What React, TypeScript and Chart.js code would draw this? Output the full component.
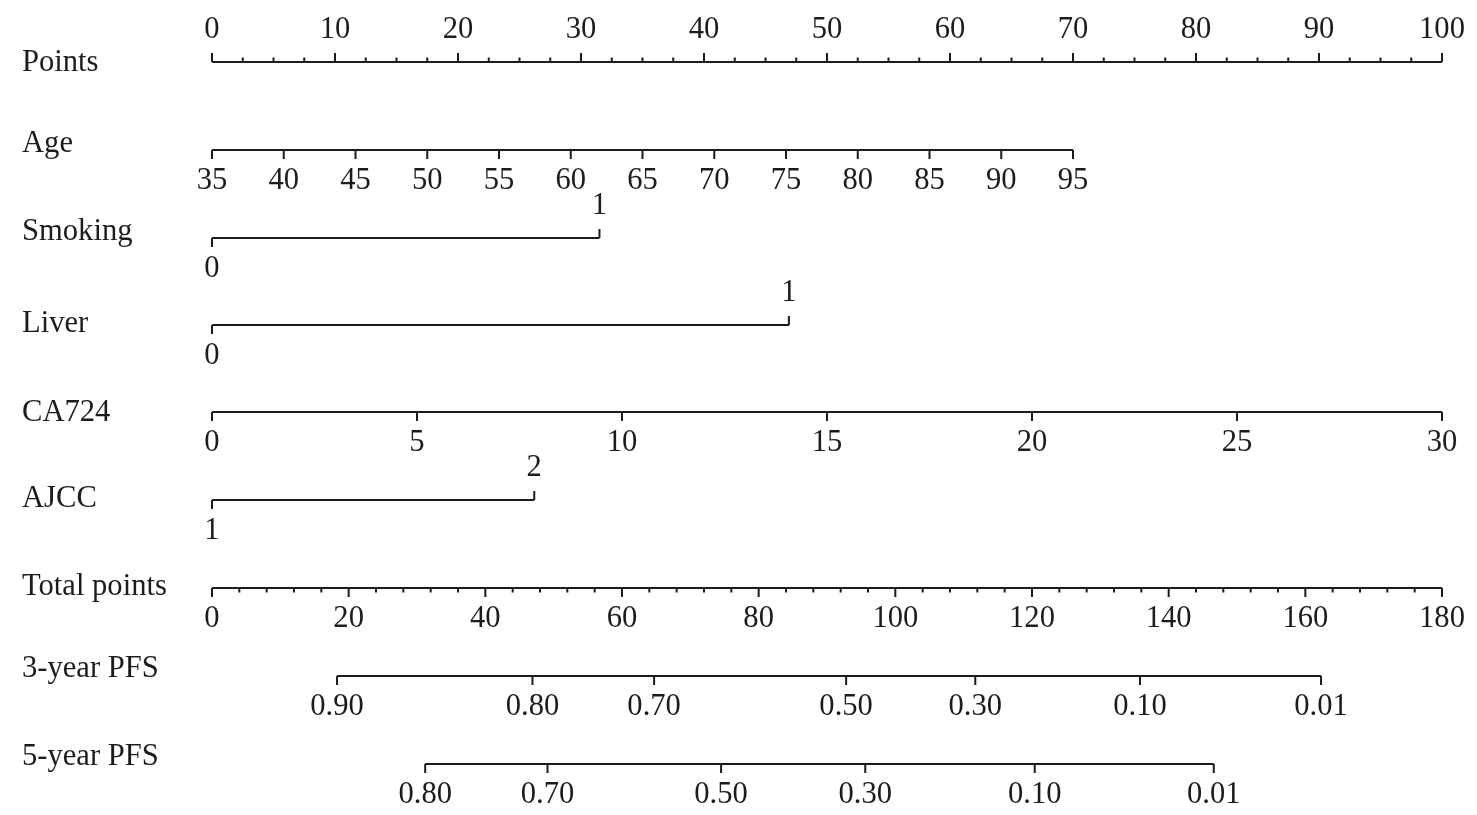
import React, { useEffect, useRef } from 'react';
import { Chart, registerables } from 'chart.js';

Chart.register(...registerables);

// ---------- data ----------
const rowNames = ['Points', 'Age', 'Smoking', 'Liver', 'CA724', 'AJCC', 'Total points', '3-year PFS', '5-year PFS'];

const pointsTicks = [0, 10, 20, 30, 40, 50, 60, 70, 80, 90, 100];
const pointsMinorStep = 2.5;

const ageValues = [35, 40, 45, 50, 55, 60, 65, 70, 75, 80, 85, 90, 95];
const ageRange = [35, 95];
const agePointRange = [0, 70];

const smokingLevels = ['0', '1'];
const smokingPoints = [0, 31.5];

const liverLevels = ['0', '1'];
const liverPoints = [0, 46.9];

const ca724Values = [0, 5, 10, 15, 20, 25, 30];
const ca724Range = [0, 30];
const ca724PointRange = [0, 100];

const ajccLevels = ['1', '2'];
const ajccPoints = [0, 26.2];

const totalTicks = [0, 20, 40, 60, 80, 100, 120, 140, 160, 180];
const totalMinorStep = 4;

const pfs3Labels = ['0.90', '0.80', '0.70', '0.50', '0.30', '0.10', '0.01'];
const pfs3Total = [18.3, 46.9, 64.7, 92.8, 111.7, 135.8, 162.3];

const pfs5Labels = ['0.80', '0.70', '0.50', '0.30', '0.10', '0.01'];
const pfs5Total = [31.2, 49.1, 74.5, 95.6, 120.4, 146.6];

// ---------- layout ----------
const W = 1477;
const H = 815;
const ROW_Y = [62, 150, 238, 325, 412, 500, 588, 676, 764];
const NAME_BASE = [71, 152, 240, 332, 421, 507, 595, 677, 765];
const MAJOR = 9;
const MINOR = 4.5;
const COLOR = '#1c1c1c';
const FONT = "30.6px 'Liberation Serif', 'Times New Roman', serif";

const linMap = (v: number, r: number[], p: number[]) => p[0] + ((v - r[0]) / (r[1] - r[0])) * (p[1] - p[0]);

const minorList = (max: number, step: number, majors: number[]) => {
  const out: number[] = [];
  for (let v = 0; v <= max + 1e-9; v += step) {
    if (!majors.some((m) => Math.abs(m - v) < 1e-9)) out.push(v);
  }
  return out;
};

type Seg = { x: number; y: number | null };
const hline = (a: number, b: number, y: number): Seg[] => [{ x: a, y }, { x: b, y }];
const ticks = (xs: number[], y0: number, y1: number): Seg[] => {
  const d: Seg[] = [];
  xs.forEach((x) => {
    d.push({ x, y: y0 }, { x, y: y1 }, { x, y: null });
  });
  return d;
};

export default function App() {
  const ref = useRef<HTMLCanvasElement | null>(null);

  useEffect(() => {
    if (!ref.current) return;

    const agePts = ageValues.map((a) => linMap(a, ageRange, agePointRange));
    const caPts = ca724Values.map((v) => linMap(v, ca724Range, ca724PointRange));

    const ds = (data: Seg[], axis = 'x', width = 2) => ({
      type: 'line' as const,
      data,
      xAxisID: axis,
      yAxisID: 'y',
      borderColor: COLOR,
      borderWidth: width,
      pointRadius: 0,
      pointHoverRadius: 0,
      spanGaps: false,
      fill: false,
      tension: 0,
      clip: false as any,
    });

    const datasets = [
      // Points
      ds(hline(0, 100, ROW_Y[0])),
      ds(ticks(pointsTicks, ROW_Y[0], ROW_Y[0] - MAJOR)),
      ds(ticks(minorList(100, pointsMinorStep, pointsTicks), ROW_Y[0], ROW_Y[0] - MINOR)),
      // Age
      ds(hline(agePts[0], agePts[agePts.length - 1], ROW_Y[1])),
      ds(ticks(agePts, ROW_Y[1], ROW_Y[1] + MAJOR)),
      // Smoking
      ds(hline(smokingPoints[0], smokingPoints[1], ROW_Y[2])),
      ds(ticks([smokingPoints[0]], ROW_Y[2], ROW_Y[2] + MAJOR)),
      ds(ticks([smokingPoints[1]], ROW_Y[2], ROW_Y[2] - MAJOR)),
      // Liver
      ds(hline(liverPoints[0], liverPoints[1], ROW_Y[3])),
      ds(ticks([liverPoints[0]], ROW_Y[3], ROW_Y[3] + MAJOR)),
      ds(ticks([liverPoints[1]], ROW_Y[3], ROW_Y[3] - MAJOR)),
      // CA724
      ds(hline(caPts[0], caPts[caPts.length - 1], ROW_Y[4])),
      ds(ticks(caPts, ROW_Y[4], ROW_Y[4] + MAJOR)),
      // AJCC
      ds(hline(ajccPoints[0], ajccPoints[1], ROW_Y[5])),
      ds(ticks([ajccPoints[0]], ROW_Y[5], ROW_Y[5] + MAJOR)),
      ds(ticks([ajccPoints[1]], ROW_Y[5], ROW_Y[5] - MAJOR)),
      // Total points
      ds(hline(0, 180, ROW_Y[6]), 'xt'),
      ds(ticks(totalTicks, ROW_Y[6], ROW_Y[6] + MAJOR), 'xt'),
      ds(ticks(minorList(180, totalMinorStep, totalTicks), ROW_Y[6], ROW_Y[6] + MINOR), 'xt'),
      // 3-year PFS
      ds(hline(pfs3Total[0], pfs3Total[pfs3Total.length - 1], ROW_Y[7]), 'xt'),
      ds(ticks(pfs3Total, ROW_Y[7], ROW_Y[7] + MAJOR), 'xt'),
      // 5-year PFS
      ds(hline(pfs5Total[0], pfs5Total[pfs5Total.length - 1], ROW_Y[8]), 'xt'),
      ds(ticks(pfs5Total, ROW_Y[8], ROW_Y[8] + MAJOR), 'xt'),
    ];

    const textPlugin = {
      id: 'nomoText',
      afterDraw(chart: any) {
        const ctx = chart.ctx as CanvasRenderingContext2D;
        const x = chart.scales.x;
        const xt = chart.scales.xt;
        const y = chart.scales.y;
        ctx.save();
        ctx.fillStyle = COLOR;
        ctx.font = FONT;
        ctx.textBaseline = 'alphabetic';
        ctx.textAlign = 'left';
        rowNames.forEach((n, i) => ctx.fillText(n, 22, y.getPixelForValue(NAME_BASE[i])));
        ctx.textAlign = 'center';
        const above = (r: number) => y.getPixelForValue(ROW_Y[r] - 24);
        const below = (r: number) => y.getPixelForValue(ROW_Y[r] + 39);
        pointsTicks.forEach((v) => ctx.fillText(String(v), x.getPixelForValue(v), above(0)));
        ageValues.forEach((v, i) => ctx.fillText(String(v), x.getPixelForValue(agePts[i]), below(1)));
        ctx.fillText(smokingLevels[0], x.getPixelForValue(smokingPoints[0]), below(2));
        ctx.fillText(smokingLevels[1], x.getPixelForValue(smokingPoints[1]), above(2));
        ctx.fillText(liverLevels[0], x.getPixelForValue(liverPoints[0]), below(3));
        ctx.fillText(liverLevels[1], x.getPixelForValue(liverPoints[1]), above(3));
        ca724Values.forEach((v, i) => ctx.fillText(String(v), x.getPixelForValue(caPts[i]), below(4)));
        ctx.fillText(ajccLevels[0], x.getPixelForValue(ajccPoints[0]), below(5));
        ctx.fillText(ajccLevels[1], x.getPixelForValue(ajccPoints[1]), above(5));
        totalTicks.forEach((v) => ctx.fillText(String(v), xt.getPixelForValue(v), below(6)));
        pfs3Labels.forEach((l, i) => ctx.fillText(l, xt.getPixelForValue(pfs3Total[i]), below(7)));
        pfs5Labels.forEach((l, i) => ctx.fillText(l, xt.getPixelForValue(pfs5Total[i]), below(8)));
        ctx.restore();
      },
    };

    const chart = new Chart(ref.current, {
      type: 'line',
      data: { datasets: datasets as any },
      options: {
        animation: false,
        responsive: false,
        maintainAspectRatio: false,
        devicePixelRatio: 1,
        events: [],
        layout: { padding: { left: 212, right: W - 1442, top: 0, bottom: 0 } },
        plugins: { legend: { display: false }, tooltip: { enabled: false }, title: { display: false } },
        scales: {
          x: { type: 'linear', min: 0, max: 100, display: false },
          xt: { type: 'linear', min: 0, max: 180, display: false },
          y: { type: 'linear', min: 0, max: H, reverse: true, display: false },
        },
      },
      plugins: [textPlugin],
    });

    return () => chart.destroy();
  }, []);

  return (
    <div style={{ position: 'fixed', left: 0, top: 0, width: W, height: H, background: '#fff' }}>
      <canvas ref={ref} width={W} height={H} style={{ display: 'block', width: W, height: H }} />
    </div>
  );
}
